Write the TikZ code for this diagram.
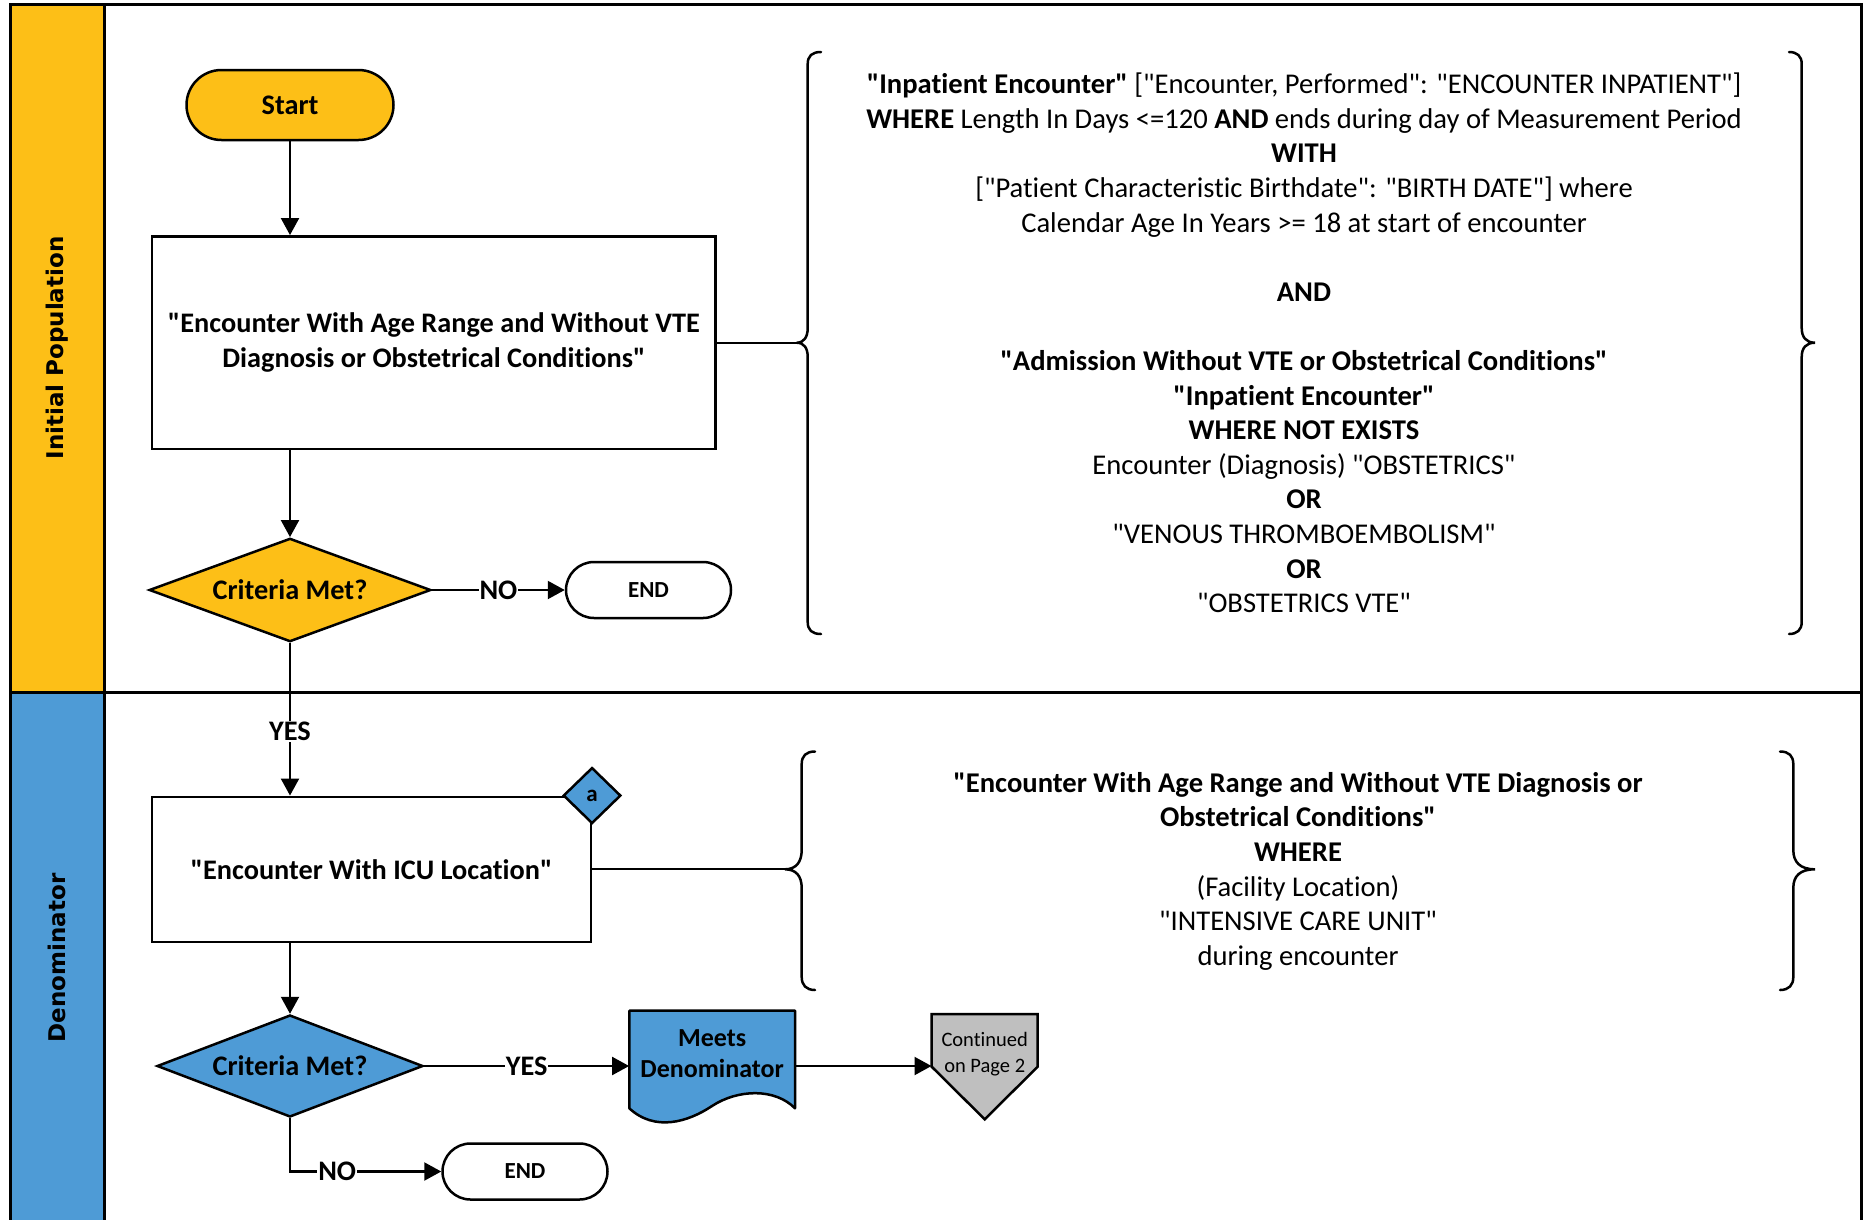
\documentclass[tikz,border=0pt]{standalone}
\usepackage{fontspec}
\setmainfont{Carlito}[Ligatures={TeXOff,NoCommon}]
\newfontfamily\lanefont{DejaVu Sans}
\usetikzlibrary{arrows.meta,shapes.geometric,calc}
\definecolor{lanegold}{HTML}{FDBF17}
\definecolor{laneblue}{HTML}{4E9BD6}
\definecolor{offgray}{HTML}{BFBFBF}
\newcommand{\mainfs}{\fontsize{28.3}{34.6}\selectfont}
\newcommand{\infofs}{\fontsize{28.6}{34.6}\selectfont}
\newcommand{\termfs}{\fontsize{23}{27}\selectfont}
\newcommand{\docfs}{\fontsize{26}{31}\selectfont}
\newcommand{\offfs}{\fontsize{20.5}{26}\selectfont}
\begin{document}
\begin{tikzpicture}[x=1pt,y=-1pt,
  frameline/.style={line width=3pt},
  procbox/.style={draw, line width=2.5pt, align=center, inner sep=0pt, font=\mainfs\bfseries},
  term/.style={draw, line width=2.5pt, inner sep=0pt},
  decision/.style={draw, diamond, aspect=2.7, line width=2.5pt, inner sep=0pt, font=\mainfs\bfseries},
  arr/.style={line width=2.2pt, -{Triangle[length=17pt,width=18pt]}},
  plain/.style={line width=2.2pt},
  lbl/.style={fill=white, inner sep=1pt, font=\mainfs\bfseries},
  bracepath/.style={line width=2.5pt, line cap=round},
  info/.style={align=center, inner sep=0pt, font=\infofs},
  lanelbl/.style={rotate=90, font=\lanefont\bfseries\fontsize{23}{27}\selectfont}]
\useasboundingbox (0,0) rectangle (1864,1219);

% lanes
\fill[lanegold] (10.7,4.8) rectangle (104.6,692);
\fill[laneblue] (10.7,692) rectangle (104.6,1240);
\draw[frameline] (10.7,1240) -- (10.7,4.8) -- (1861.6,4.8) -- (1861.6,1240);
\draw[frameline] (104.6,4.8) -- (104.6,1240);
\draw[frameline] (10.7,692) -- (1861.6,692);
\node[lanelbl] (lane1) at (57,348) {Initial Population};
\node[lanelbl] (lane2) at (57,958) {Denominator};

% initial population flow
\node[term, fill=lanegold, rounded corners=35pt, minimum width=207pt, minimum height=70pt, font=\mainfs\bfseries] (start) at (290,105) {Start};
\node[procbox, minimum width=563.4pt, minimum height=212.8pt] (box1) at (433.9,342.7)
  {"Encounter With Age Range and Without VTE\\Diagnosis or Obstetrical Conditions"};
\node[decision, fill=lanegold, minimum width=281.7pt, minimum height=103.4pt] (d1) at (290,590) {Criteria Met?};
\node[term, rounded corners=28pt, minimum width=165pt, minimum height=56pt, font=\termfs\bfseries] (end1) at (648.5,590) {END};

\draw[arr] (start.south) -- (box1.north -| start.south);
\draw[arr] (box1.south -| d1.north) -- (d1.north);
\draw[arr] (d1.east) -- node[lbl, pos=0.50]{NO} (end1.west);

% brace 1
\coordinate (b1tip) at (796.7,342.7);
\draw[bracepath] (821,52) .. controls (812,52) and (807.7,56) .. (807.7,64)
  -- (807.7,328) .. controls (807.7,337) and (804,342.7) .. (b1tip)
  .. controls (804,342.7) and (807.7,348) .. (807.7,357)
  -- (807.7,622) .. controls (807.7,630) and (812,634) .. (821,634);
\draw[bracepath] (1789,52) .. controls (1797,52) and (1801.7,56) .. (1801.7,64)
  -- (1801.7,328) .. controls (1801.7,337) and (1806,342.7) .. (1815,342.7)
  .. controls (1806,342.7) and (1801.7,348) .. (1801.7,357)
  -- (1801.7,622) .. controls (1801.7,630) and (1797,634) .. (1789,634);
\draw[plain] (box1.east) -- (b1tip);

\node[info] (info1) at (1304,343) {%
  \textbf{"Inpatient Encounter"} ["Encounter, Performed": "ENCOUNTER INPATIENT"]\\
  \textbf{WHERE} Length In Days <=120 \textbf{AND} ends during day of Measurement Period\\
  \textbf{WITH}\\
  {[}"Patient Characteristic Birthdate": "BIRTH DATE"] where\\
  Calendar Age In Years >= 18 at start of encounter\\[34.6pt]
  \textbf{AND}\\[34.6pt]
  \textbf{"Admission Without VTE or Obstetrical Conditions"}\\
  \textbf{"Inpatient Encounter"}\\
  \textbf{WHERE NOT EXISTS}\\
  Encounter (Diagnosis) "OBSTETRICS"\\
  \textbf{OR}\\
  "VENOUS THROMBOEMBOLISM"\\
  \textbf{OR}\\
  "OBSTETRICS VTE"};

% denominator flow
\node[procbox, minimum width=438.6pt, minimum height=145pt] (box2) at (371.5,869.3) {"Encounter With ICU Location"};
\node[decision, aspect=1, fill=laneblue, minimum width=57.6pt, minimum height=56pt, font=\termfs\bfseries] (ca) at (box2.north east) {a};
\draw[arr] (d1.south) -- node[lbl, pos=0.58]{YES} (box2.north -| d1.south);

\coordinate (b2tip) at (785,869.3);
\draw[bracepath] (815,751.5) .. controls (806,751.5) and (801.7,756) .. (801.7,764)
  -- (801.7,850) .. controls (801.7,862) and (796,869.3) .. (b2tip)
  .. controls (796,869.3) and (801.7,876) .. (801.7,888)
  -- (801.7,977) .. controls (801.7,985) and (806,990) .. (815,990);
\draw[bracepath] (1780,751.5) .. controls (1789,751.5) and (1793.3,756) .. (1793.3,764)
  -- (1793.3,850) .. controls (1793.3,862) and (1800,869.3) .. (1815,869.3)
  .. controls (1800,869.3) and (1793.3,876) .. (1793.3,888)
  -- (1793.3,977) .. controls (1793.3,985) and (1789,990) .. (1780,990);
\draw[plain] (box2.east) -- (b2tip);

\node[info] (info2) at (1298,871.3) {%
  \textbf{"Encounter With Age Range and Without VTE Diagnosis or}\\
  \textbf{Obstetrical Conditions"}\\
  \textbf{WHERE}\\
  (Facility Location)\\
  "INTENSIVE CARE UNIT"\\
  during encounter};

\node[decision, fill=laneblue, minimum width=266pt, minimum height=102pt] (d2) at (290,1066) {Criteria Met?};
\draw[arr] (box2.south -| d2.north) -- (d2.north);

% document shape
\draw[line width=2.5pt, fill=laneblue, line join=round]
  (629.3,1010.7) -- (795,1010.7) -- (795,1108.3)
  .. controls (775,1088) and (738,1089) .. (712,1106)
  .. controls (688,1122) and (655,1132) .. (629.3,1108.3) -- cycle;
\node[align=center, inner sep=0pt, minimum width=165.7pt, font=\docfs\bfseries] (doc) at (712.15,1053.7) {Meets\\Denominator};

% off-page connector
\draw[line width=2.5pt, fill=offgray, line join=miter]
  (931.7,1014) -- (1037.7,1014) -- (1037.7,1066.7) -- (984.7,1119.3) -- (931.7,1066.7) -- cycle;
\node[align=center, inner sep=0pt, minimum width=106pt, font=\offfs] (off) at (984.7,1053.7) {Continued\\on Page 2};

\draw[arr] (d2.east) -- node[lbl, pos=0.5]{YES} (d2.east -| doc.west);
\draw[arr] (d2.east -| doc.east) -- (d2.east -| off.west);

\node[term, rounded corners=28pt, minimum width=165pt, minimum height=56pt, font=\termfs\bfseries] (end2) at (525,1171.5) {END};
\draw[arr] (d2.south) |- node[lbl, pos=0.656]{NO} (end2.west);
\end{tikzpicture}
\end{document}
